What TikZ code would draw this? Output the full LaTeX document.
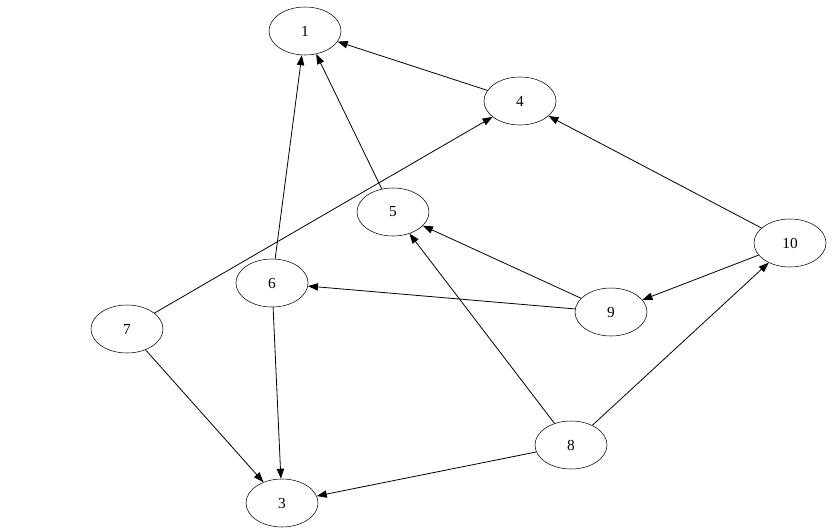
\documentclass[tikz,border=0pt]{standalone}
\usepackage{fontspec}
\setmainfont{Liberation Serif}
\usetikzlibrary{arrows.meta,shapes.geometric}

\begin{document}
\begin{tikzpicture}[x=0.75pt,y=-0.75pt,
    vertex/.style={draw,ellipse,minimum width=54pt,minimum height=36pt,inner sep=0pt,font=\fontsize{11.5}{13}\selectfont},
    edge/.style={-{Triangle[length=7.5pt,width=5.5pt]},line width=0.6pt}]
    \useasboundingbox (0,0) rectangle (832,532);
    \node[vertex] (n1) at (305,31) {1};
    \node[vertex] (n4) at (520,101) {4};
    \node[vertex] (n5) at (393,212) {5};
    \node[vertex] (n10) at (790,243) {10};
    \node[vertex] (n6) at (272,283) {6};
    \node[vertex] (n7) at (127,329) {7};
    \node[vertex] (n9) at (611,312) {9};
    \node[vertex] (n8) at (571,445) {8};
    \node[vertex] (n3) at (282,503) {3};
    \draw[edge] (n4) -- (n1);
    \draw[edge] (n5) -- (n1);
    \draw[edge] (n6) -- (n1);
    \draw[edge] (n7) -- (n4);
    \draw[edge] (n10) -- (n4);
    \draw[edge] (n9) -- (n5);
    \draw[edge] (n8) -- (n5);
    \draw[edge] (n10) -- (n9);
    \draw[edge] (n9) -- (n6);
    \draw[edge] (n8) -- (n10);
    \draw[edge] (n6) -- (n3);
    \draw[edge] (n7) -- (n3);
    \draw[edge] (n8) -- (n3);
   \end{tikzpicture}
\end{document}
